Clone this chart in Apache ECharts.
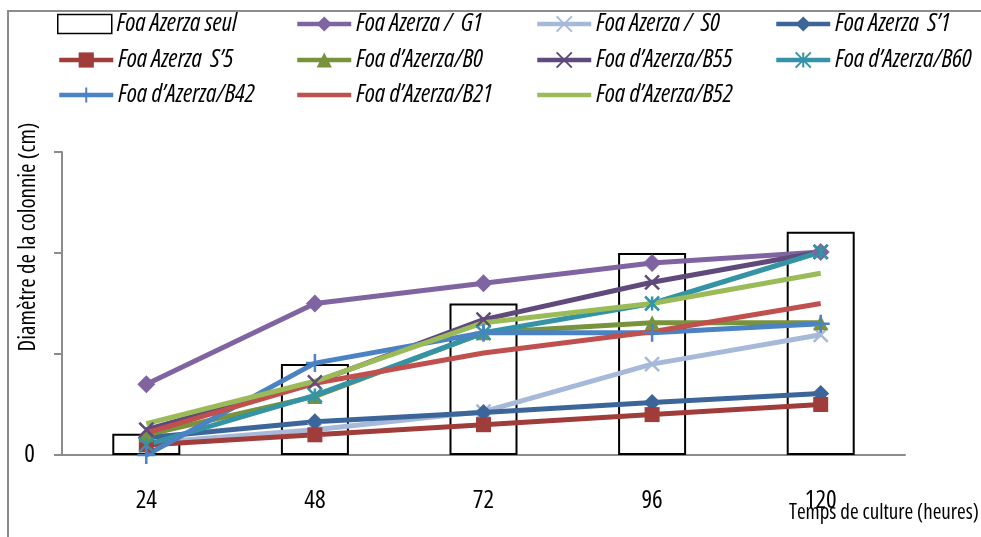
<!DOCTYPE html>
<html>
<head>
<meta charset="utf-8">
<script src="https://cdn.jsdelivr.net/npm/echarts@6/dist/echarts.min.js"></script>
<style>
html,body{margin:0;padding:0;background:#fff;}
#c{width:981px;height:537px;}
</style>
</head>
<body>
<div id="c"></div>
<script>
var categories = ['24', '48', '72', '96', '120'];
var seul = [0.21, 0.90, 1.50, 2.00, 2.21];
var g1 = [0.70, 1.50, 1.70, 1.90, 2.01];
var s0 = [0.12, 0.25, 0.43, 0.90, 1.19];
var s1 = [0.17, 0.33, 0.42, 0.52, 0.61];
var s5 = [0.10, 0.20, 0.30, 0.40, 0.50];
var b0 = [0.20, 0.58, 1.21, 1.31, 1.31];
var b55 = [0.25, 0.72, 1.34, 1.71, 2.01];
var b60 = [0.10, 0.59, 1.21, 1.50, 2.01];
var b42 = [0.00, 0.91, 1.21, 1.21, 1.30];
var b21 = [0.22, 0.71, 1.01, 1.22, 1.50];
var b52 = [0.31, 0.73, 1.31, 1.50, 1.80];

var names = ['Foa Azerza seul', 'Foa Azerza /  G1', 'Foa Azerza /  S0', 'Foa Azerza  S\u20191',
  'Foa Azerza  S\u20195', 'Foa d\u2019Azerza/B0', 'Foa d\u2019Azerza/B55', 'Foa d\u2019Azerza/B60',
  'Foa d\u2019Azerza/B42', 'Foa d\u2019Azerza/B21', 'Foa d\u2019Azerza/B52'];
var yAxisTitle = 'Diamètre de la colonnie (cm)';
var xAxisTitle = 'Temps de culture (heures)';

var FONT = "'Open Sans', sans-serif";
var STRETCH = 'condensed';
var X_PATH = 'path://M0,0 L10,10 M10,0 L0,10';
var STAR_PATH = 'path://M0,0 L10,10 M10,0 L0,10 M5,0 L5,10';
var PLUS_PATH = 'path://M0,5 L10,5 M5,0 L5,10';

function lineSeries(name, data, color, symbol, size, strokeSym) {
  var s = {
    name: name, type: 'line', data: data,
    symbol: symbol || 'none', symbolSize: size || 14, showSymbol: !!symbol,
    lineStyle: {color: color, width: 5},
    itemStyle: {color: color},
    emphasis: {disabled: true}, animation: false
  };
  if (strokeSym) {
    s.itemStyle = {color: 'none', borderColor: color, borderWidth: 2.5};
  }
  return s;
}

var series = [
  {name: names[0], type: 'bar', data: seul, barWidth: 68,
   itemStyle: {color: '#ffffff', borderColor: '#000000', borderWidth: 2}, animation: false},
  lineSeries(names[1], g1, '#8064A2', 'diamond', 18),
  lineSeries(names[2], s0, '#A7B9D9', X_PATH, 14, true),
  lineSeries(names[3], s1, '#3C6699', 'diamond', 17),
  lineSeries(names[4], s5, '#A03C3A', 'rect', 15),
  lineSeries(names[5], b0, '#77933C', 'triangle', 15),
  lineSeries(names[6], b55, '#604A7B', X_PATH, 14, true),
  lineSeries(names[7], b60, '#3494A6', STAR_PATH, 14, true),
  lineSeries(names[8], b42, '#4A82C4', PLUS_PATH, 18, true),
  lineSeries(names[9], b21, '#C0504D', null),
  lineSeries(names[10], b52, '#9BBB59', null)
];

var colLeft = [57, 295, 535, 774];
var rowTop = [11, 47, 82];

function legendItem(idx) {
  var n = names[idx];
  var row = Math.floor(idx / 4), col = idx % 4;
  var item = {name: n};
  if (idx === 0) {
    item.icon = 'rect';
    item.itemStyle = {color: '#fff', borderColor: '#000', borderWidth: 1.5};
  } else if (idx === 9 || idx === 10) {
    item.itemStyle = {color: 'rgba(0,0,0,0)', borderColor: 'rgba(0,0,0,0)', borderWidth: 0};
  }
  return {
    top: rowTop[row], left: colLeft[col], itemWidth: 54, itemHeight: 19, itemGap: 0,
    orient: 'horizontal', selectedMode: false, padding: 0,
    lineStyle: {width: 4.5},
    data: [item],
    textStyle: {fontFamily: FONT, fontWeight: STRETCH, fontStyle: 'italic', fontSize: 25, lineHeight: 26, color: '#000'}
  };
}
var legends = [];
for (var i = 0; i < names.length; i++) legends.push(legendItem(i));

var chart = echarts.init(document.getElementById('c'), null, {renderer: 'canvas'});
chart.setOption({
  backgroundColor: '#fff',
  animation: false,
  graphic: [
    {type: 'rect', shape: {x: 8, y: 11, width: 1100, height: 700}, style: {fill: 'none', stroke: '#8c8c8c', lineWidth: 2}, silent: true},
    {type: 'text', x: 28, y: 237, rotation: Math.PI / 2, silent: true,
     style: {text: yAxisTitle, fontFamily: FONT, fontWeight: STRETCH, fontSize: 23, fill: '#000', align: 'center', verticalAlign: 'middle'}}
  ],
  title: {text: xAxisTitle, left: 789, top: 503, padding: 0,
    textStyle: {fontFamily: FONT, fontSize: 21, fontWeight: STRETCH, color: '#000'}},
  legend: legends,
  grid: {left: 62, right: 76, top: 152, bottom: 82},
  xAxis: {type: 'category', data: categories,
    axisLine: {lineStyle: {color: '#8c8c8c', width: 2}},
    axisTick: {show: false},
    axisLabel: {fontFamily: FONT, fontWeight: STRETCH, fontSize: 25, color: '#000', margin: 33}},
  yAxis: {type: 'value', min: 0, max: 3, interval: 1,
    splitLine: {show: false},
    axisLine: {show: true, lineStyle: {color: '#8c8c8c', width: 2}},
    axisTick: {show: true, length: 8, lineStyle: {color: '#8c8c8c', width: 2}},
    axisLabel: {fontFamily: FONT, fontWeight: STRETCH, fontSize: 25, color: '#000', margin: 27,
      formatter: function (v) { return v === 0 ? '0' : ''; }}},
  series: series
});
</script>
</body>
</html>
